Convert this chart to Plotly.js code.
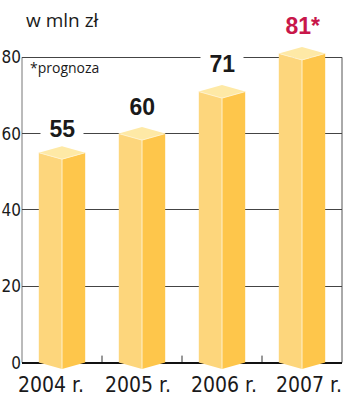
<!DOCTYPE html>
<html>
<head>
<meta charset="utf-8">
<script src="https://cdn.plot.ly/plotly-3.0.1.min.js"></script>
<style>html,body{margin:0;padding:0;background:#fff;}#chart{width:350px;height:407px;}</style>
</head>
<body>
<div id="chart"></div>
<script>
// ---- data ----
const years = ['2004 r.', '2005 r.', '2006 r.', '2007 r.'];
const values = [55, 60, 71, 81];
const valueLabels = ['55', '60', '71', '81*'];
const forecast = [false, false, false, true];
const yTickVals = [0, 20, 40, 60, 80];
const yTickText = ['0', '20', '40', '60', '80'];
const unitTitle = 'w mln zł';
const noteText = '*prognoza';

// ---- style ----
const W = 350, H = 407;
const margin = {l: 22, r: 8, t: 42, b: 36};
const yRange = [-2.2, 84];
const xRange = [-0.5, 3.5];
const halfW = 0.29;
const depthPx = 6.5;
const pxPerUnit = (H - margin.t - margin.b) / (yRange[1] - yRange[0]);
const d = depthPx / pxPerUnit;
const colLeft = '#FDD67C', colRight = '#FEC64B', colTop = '#FEE9A6', colEdge = '#FFF2CC';
const narrow = '"Liberation Sans Narrow", "DejaVu Sans Condensed", "Arial Narrow", sans-serif';
const labelXShift = [-11, -4, 2, 7];
const valueYShift = [24, 27, 28, 27];

const traces = [];
values.forEach((v, i) => {
  const L = i - halfW, C = i, R = i + halfW;
  traces.push({type: 'scatter', mode: 'lines', fill: 'toself', fillcolor: colLeft,
    x: [L, L, C, C, L], y: [0, v, v - d, -d, 0], line: {width: 0}, hoverinfo: 'skip', showlegend: false});
  traces.push({type: 'scatter', mode: 'lines', fill: 'toself', fillcolor: colRight,
    x: [C, C, R, R, C], y: [-d, v - d, v, 0, -d], line: {width: 0}, hoverinfo: 'skip', showlegend: false});
  traces.push({type: 'scatter', mode: 'lines', fill: 'toself', fillcolor: colTop,
    x: [L, C, R, C, L], y: [v, v - d, v, v + d, v], line: {width: 0}, hoverinfo: 'skip', showlegend: false});
  traces.push({type: 'scatter', mode: 'lines',
    x: [C, C, R], y: [-d, v - d, v], line: {width: 1, color: colEdge}, hoverinfo: 'skip', showlegend: false});
  traces.push({type: 'scatter', mode: 'lines',
    x: [L, C], y: [v, v - d], line: {width: 1, color: colEdge}, hoverinfo: 'skip', showlegend: false});
});

const annotations = [];
values.forEach((v, i) => {
  annotations.push({x: i, y: v, xref: 'x', yref: 'y', yanchor: 'middle', yshift: valueYShift[i], showarrow: false,
    text: '\u00a0' + valueLabels[i] + '\u00a0', bgcolor: '#ffffff', borderpad: 2,
    font: {family: '"Liberation Sans", Arial, sans-serif', size: 23, color: forecast[i] ? '#C8174A' : '#1a1a1a', weight: 'bold'}});
  annotations.push({x: i, y: 0, xref: 'x', yref: 'paper', yanchor: 'top', xanchor: 'center', xshift: labelXShift[i], yshift: 0,
    showarrow: false, text: years[i], font: {family: narrow, size: 21, color: '#1a1a1a'}});
});
annotations.push({x: 0, y: 1, xref: 'paper', yref: 'paper', xanchor: 'left', yanchor: 'bottom', xshift: 2, yshift: 7,
  showarrow: false, text: unitTitle, font: {family: '"Open Sans", "Noto Sans", sans-serif', size: 19, color: '#1a1a1a'}});
annotations.push({x: 0, y: 80, xref: 'paper', yref: 'y', xanchor: 'left', yanchor: 'top', xshift: 6, yshift: 1,
  showarrow: false, text: noteText, font: {family: '"Open Sans", "Noto Sans", sans-serif', size: 14, color: '#1a1a1a'}});

const shapes = [
  {type: 'line', xref: 'paper', yref: 'y', x0: 0, x1: 0, y0: 0, y1: 80, line: {color: '#777', width: 1}, layer: 'below'},
  {type: 'line', xref: 'paper', yref: 'y', x0: 1, x1: 1, y0: 0, y1: 80, line: {color: '#555', width: 1}, layer: 'below'}
];
for (let k = 0; k < years.length - 1; k++) {
  shapes.push({type: 'line', xref: 'x', yref: 'y', x0: k + 0.5, x1: k + 0.5, ysizemode: 'pixel', yanchor: 0, y0: 0, y1: 7,
    line: {color: '#333', width: 1}, layer: 'below'});
}

const layout = {
  width: W, height: H, margin: margin,
  paper_bgcolor: '#fff', plot_bgcolor: '#fff',
  showlegend: false,
  xaxis: {range: xRange, showgrid: false, zeroline: false, showline: false, showticklabels: false, ticks: '', fixedrange: true},
  yaxis: {range: yRange, tickvals: yTickVals, ticktext: yTickText, showgrid: true, gridcolor: '#444', gridwidth: 1,
    zeroline: true, zerolinecolor: '#111', zerolinewidth: 2, showline: false, ticks: '',
    tickfont: {family: narrow, size: 17, color: '#1a1a1a'}, fixedrange: true},
  annotations: annotations,
  shapes: shapes
};

Plotly.newPlot('chart', traces, layout, {staticPlot: true, displayModeBar: false});
</script>
</body>
</html>
